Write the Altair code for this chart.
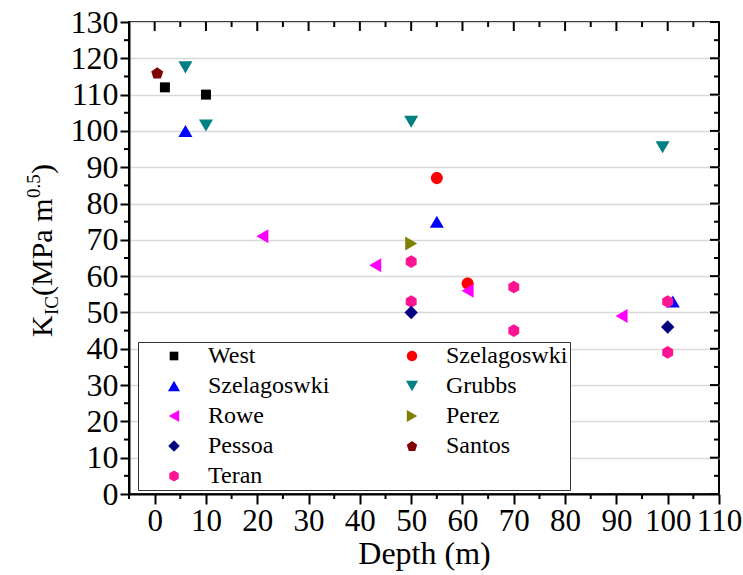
import altair as alt
import pandas as pd

# ---------------- data ----------------
west_depth = [2, 10]
west_k = [112, 110]
szel_tri_depth = [6, 55, 101]
szel_tri_k = [100, 75, 53]
rowe_depth = [21, 43, 61, 91]
rowe_k = [71, 63, 56, 49]
pessoa_depth = [50, 100]
pessoa_k = [50, 46]
teran_depth = [50, 50, 70, 70, 100, 100]
teran_k = [64, 53, 57, 45, 53, 39]
szel_circ_depth = [55, 61]
szel_circ_k = [87, 58]
grubbs_depth = [6, 10, 50, 99]
grubbs_k = [117.5, 101.5, 102.5, 95.5]
perez_depth = [50]
perez_k = [69]
santos_depth = [0.5]
santos_k = [116]

x_major = list(range(0, 111, 10))
x_minor = list(range(-5, 106, 10))
y_major = list(range(0, 131, 10))
y_minor = list(range(5, 126, 10))

# marker shapes (unit paths, drawn at a common size)
SQUARE = "M-0.707,-0.707H0.707V0.707H-0.707Z"
CIRCLE = "M0.849,0A0.849,0.849,0,1,1,-0.849,0A0.849,0.849,0,1,1,0.849,0Z"
TRI_UP = "M0,-0.85L0.99,0.85L-0.99,0.85Z"
TRI_DOWN = "M0,0.85L0.99,-0.85L-0.99,-0.85Z"
TRI_LEFT = "M-0.85,0L0.85,-0.99L0.85,0.99Z"
TRI_RIGHT = "M0.85,0L-0.85,-0.99L-0.85,0.99Z"
DIAMOND = "M0,-0.95L0.95,0L0,0.95L-0.95,0Z"
HEXAGON = "M0,-0.89L0.771,-0.445L0.771,0.445L0,0.89L-0.771,0.445L-0.771,-0.445Z"
PENTAGON = "M0,-0.805L0.846,-0.19L0.523,0.805L-0.523,0.805L-0.846,-0.19Z"

# legend order (filled column by column, 2 columns)
legend_order = ["West", "Szelagoswki (triangle)", "Rowe", "Pessoa", "Teran",
                "Szelagoswki (circle)", "Grubbs", "Perez", "Santos"]
colors = ["#000000", "#0000FF", "#FF00FF", "#000080", "#FF1493",
          "#FF0000", "#008080", "#808000", "#800000"]
shapes = [SQUARE, TRI_UP, TRI_LEFT, DIAMOND, HEXAGON,
          CIRCLE, TRI_DOWN, TRI_RIGHT, PENTAGON]

# drawing order
series = [
    ("Szelagoswki (circle)", szel_circ_depth, szel_circ_k),
    ("Grubbs", grubbs_depth, grubbs_k),
    ("Perez", perez_depth, perez_k),
    ("Santos", santos_depth, santos_k),
    ("West", west_depth, west_k),
    ("Szelagoswki (triangle)", szel_tri_depth, szel_tri_k),
    ("Rowe", rowe_depth, rowe_k),
    ("Teran", teran_depth, teran_k),
    ("Pessoa", pessoa_depth, pessoa_k),
]
rows = []
for name, ds, ks in series:
    for d, k in zip(ds, ks):
        rows.append({"series": name, "depth": d, "k": k})
df = pd.DataFrame(rows)

FONT = "Liberation Serif"
W, H = 590, 472
xscale = alt.Scale(domain=[-5, 110], nice=False, zero=False)
yscale = alt.Scale(domain=[0, 130], nice=False, zero=False)

legend = alt.Legend(
    orient="none", legendX=9, legendY=320, columns=2, title=None,
    fillColor="white", strokeColor="#333333", padding=2,
    labelFont=FONT, labelFontSize=24,
    symbolSize=150, symbolStrokeWidth=0, symbolOffset=22, labelOffset=22,
    rowPadding=6, columnPadding=48,
    labelExpr="split(datum.label, ' (')[0]",
)

points = alt.Chart(df).mark_point(filled=True, opacity=1, strokeWidth=0, size=200).encode(
    x=alt.X("depth:Q", scale=xscale, axis=alt.Axis(
        orient="bottom", values=x_major, tickSize=10, tickWidth=2, tickColor="black",
        domainColor="black", domainWidth=2, labelFont=FONT, labelFontSize=31,
        labelPadding=2, labelOverlap=False, labelFlush=False,
        title="Depth (m)", titleFont=FONT, titleFontSize=32, titleFontWeight="normal",
        titlePadding=2, grid=False)),
    y=alt.Y("k:Q", scale=yscale, axis=alt.Axis(
        orient="left", values=y_major, tickSize=9, tickWidth=2, tickColor="black",
        domainColor="black", domainWidth=2, labelFont=FONT, labelFontSize=32,
        labelPadding=2, labelOverlap=False, labelFlush=False,
        title=None, grid=True, gridColor="#d9d9d9", gridWidth=1.5)),
    color=alt.Color("series:N", scale=alt.Scale(domain=legend_order, range=colors), legend=legend),
    shape=alt.Shape("series:N", scale=alt.Scale(domain=legend_order, range=shapes), legend=legend),
)

def xticks(values, y0, y1):
    return alt.Chart(pd.DataFrame({"v": values})).mark_rule(color="black", strokeWidth=2).encode(
        x=alt.X("v:Q", scale=xscale, axis=None), y=alt.value(y0), y2=alt.value(y1))

def yticks(values, x0, x1):
    return alt.Chart(pd.DataFrame({"v": values})).mark_rule(color="black", strokeWidth=2).encode(
        y=alt.Y("v:Q", scale=yscale, axis=None), x=alt.value(x0), x2=alt.value(x1))

tick_layers = [
    xticks(x_minor, H, H + 5),      # bottom minor (outward)
    yticks(y_minor, -5, 0),         # left minor (outward)
    xticks(x_major, 0, 9),          # top major (inward)
    xticks(x_minor, 0, 5),          # top minor (inward)
    yticks(y_major, W - 9, W),      # right major (inward)
    yticks(y_minor, W - 5, W),      # right minor (inward)
]

# y-axis title with subscript / superscript
one = pd.DataFrame({"i": [0]})
def title_piece(text, x, y, size):
    return alt.Chart(one).mark_text(angle=270, align="left", baseline="alphabetic",
                                    font=FONT, fontSize=size, color="black").encode(
        x=alt.value(x), y=alt.value(y), text=alt.value(text))

ytitle = [
    title_piece("K", -77, 315, 30),
    title_piece("IC", -71, 293, 19),
    title_piece("(MPa m", -77, 274, 30),
    title_piece("0.5", -89, 176, 19),
    title_piece(")", -77, 152, 30),
]

chart = alt.layer(points, *tick_layers, *ytitle).resolve_axis(
    x="independent", y="independent"
).properties(
    width=W, height=H,
    autosize=alt.AutoSizeParams(type="none"),
    padding={"left": 129, "top": 22, "right": 24, "bottom": 81},
).configure(
    font=FONT
).configure_view(
    stroke="black", strokeWidth=2
).configure_axis(
    labelFont=FONT, titleFont=FONT
).configure_legend(
    strokeWidth=1, labelFont=FONT
)

chart.save("out.html", embed_options={"renderer": "svg", "actions": False})
